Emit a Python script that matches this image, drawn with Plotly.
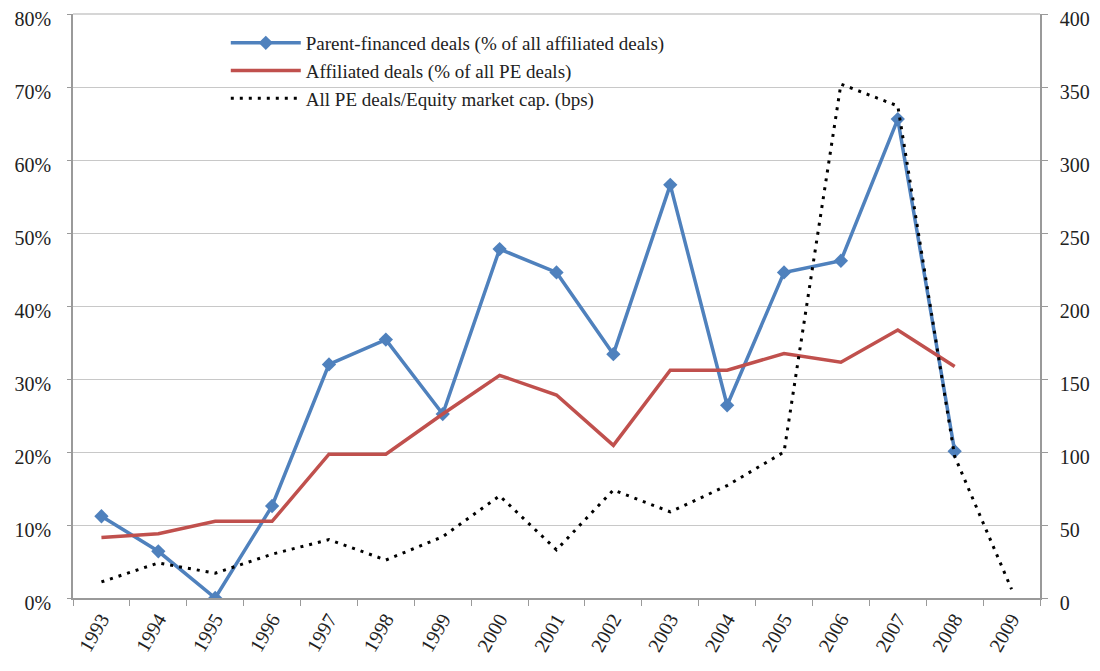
import plotly.graph_objects as go

years = [str(y) for y in range(1993, 2010)]
parent_financed = [0.112, 0.064, 0.0, 0.126, 0.320, 0.354, 0.252, 0.478, 0.446,
                   0.334, 0.566, 0.264, 0.446, 0.462, 0.656, 0.201]
affiliated = [0.083, 0.088, 0.105, 0.105, 0.197, 0.197, 0.252, 0.305, 0.278,
              0.209, 0.312, 0.312, 0.335, 0.323, 0.367, 0.317]
pe_to_mcap = [11, 24, 17, 30, 40, 26, 42, 70, 33, 74, 59, 77, 100, 352, 337, 97, 6]

names = ["Parent-financed deals (% of all affiliated deals)",
         "Affiliated deals (% of all PE deals)",
         "All PE deals/Equity market cap. (bps)"]

font_family = "Liberation Serif, Times New Roman, serif"

fig = go.Figure()
fig.add_trace(go.Scatter(
    x=years[:16], y=parent_financed, name=names[0], mode="lines+markers",
    line=dict(color="#4f81bd", width=3.5),
    marker=dict(symbol="diamond", size=11, color="#4f81bd"),
    legendgroup="a"))
fig.add_trace(go.Scatter(
    x=years[:16], y=affiliated, name=names[1], mode="lines",
    line=dict(color="#c0504d", width=3.5), legendgroup="b"))
fig.add_trace(go.Scatter(
    x=years, y=pe_to_mcap, name=names[2], mode="lines", yaxis="y2",
    line=dict(color="black", width=3, dash="3px,6px"), legendgroup="c"))

grid_col = "#c8c8c8"
axis_col = "#9a9a9a"

fig.update_layout(
    width=1100, height=671,
    margin=dict(l=65, r=68, t=6, b=81, autoexpand=False),
    paper_bgcolor="white", plot_bgcolor="white",
    font=dict(family=font_family, size=19, color="#222"),
    showlegend=True,
    legend=dict(x=0.158, y=0.983, xanchor="left", yanchor="top",
                bgcolor="rgba(255,255,255,0)", font=dict(size=19, family=font_family),
                itemwidth=70, tracegroupgap=14, traceorder="normal"),
    xaxis=dict(type="category", range=[-0.5, 16.5], tickson="boundaries",
               ticks="outside", ticklen=6, tickcolor=axis_col,
               showline=True, linecolor=axis_col, linewidth=1.5,
               showgrid=False, tickangle=-60, tickfont=dict(size=20),
               automargin=False, ticklabeloverflow="allow"),
    yaxis=dict(range=[0, 0.8], dtick=0.1, tickformat=".0%",
               showgrid=True, gridcolor=grid_col, gridwidth=1,
               showline=True, linecolor=axis_col, linewidth=1.5,
               ticks="outside", ticklen=4, tickcolor=axis_col,
               zeroline=False, tickfont=dict(size=20), ticklabelstandoff=12,
               ticklabelshift=5,
               automargin=False, ticklabeloverflow="allow"),
    yaxis2=dict(range=[0, 400], dtick=50, overlaying="y", side="right",
                showgrid=False, showline=True, linecolor=axis_col, linewidth=1.5,
                ticks="outside", ticklen=6, tickcolor=axis_col,
                zeroline=False, tickfont=dict(size=20), ticklabelstandoff=8,
                ticklabelshift=5,
                automargin=False, ticklabeloverflow="allow"),
)

# top gridline (at the 80% / 400 level)
fig.add_shape(type="line", xref="paper", yref="paper", x0=0, x1=1, y0=1, y1=1,
              line=dict(color=grid_col, width=1.5), layer="between")
# white band hiding the 70% gridline behind the legend area
fig.add_shape(type="rect", xref="paper", yref="y", x0=0.002, x1=0.881,
              y0=0.69, y1=0.71, fillcolor="white", line=dict(width=0),
              layer="between")

fig.write_html("out.html")
